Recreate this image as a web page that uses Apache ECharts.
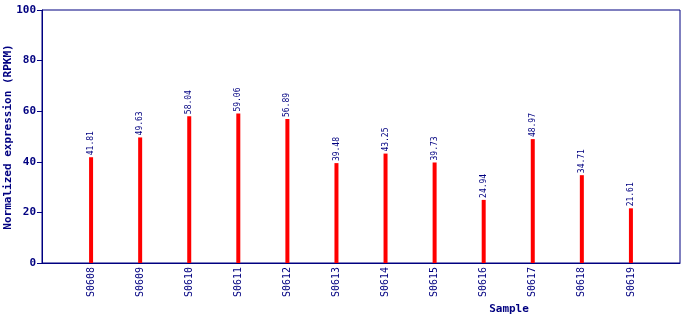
<!DOCTYPE html>
<html><head><meta charset="utf-8">
<script src="https://cdn.jsdelivr.net/npm/echarts@6/dist/echarts.min.js"></script>
<style>html,body{margin:0;padding:0;background:#fff}#c{width:690px;height:320px}</style>
</head><body><div id="c"></div>
<script>
const categories = ['S0608','S0609','S0610','S0611','S0612','S0613','S0614','S0615','S0616','S0617','S0618','S0619'];
const values = [41.81,49.63,58.04,59.06,56.89,39.48,43.25,39.73,24.94,48.97,34.71,21.61];
const yTicks = [0,20,40,60,80,100];

const navy = '#000080';
const font = '"DejaVu Sans Mono", monospace';
const cats = [''].concat(categories, ['']);
const data = [null].concat(values, [null]);

const chart = echarts.init(document.getElementById('c'), null, {renderer:'canvas'});
chart.setOption({
  animation: false,
  grid: {left: 42, right: 10, top: 10, bottom: 57, show: true, borderColor: navy, borderWidth: 1, backgroundColor: 'transparent'},
  xAxis: {
    type: 'category', data: cats, boundaryGap: false,
    axisLine: {lineStyle: {color: navy, width: 1}},
    axisTick: {show: false},
    axisLabel: {rotate: 90, interval: 0, margin: 4, color: navy, fontFamily: font, fontSize: 10},
    splitLine: {show: false}
  },
  yAxis: {
    type: 'value', min: yTicks[0], max: yTicks[yTicks.length-1], interval: 20,
    axisLine: {show: true, lineStyle: {color: navy, width: 1}},
    axisTick: {show: true, length: 5, lineStyle: {color: navy}},
    axisLabel: {margin: 6, color: navy, fontFamily: font, fontSize: 11, fontWeight: 'bold'},
    splitLine: {show: false}
  },
  graphic: [
    {type: 'text', x: 509, y: 309, style: {text: 'Sample', fill: navy, font: 'bold 11px ' + font, textAlign: 'center', textVerticalAlign: 'middle'}},
    {type: 'text', x: 8, y: 137, rotation: Math.PI/2, style: {text: 'Normalized expression (RPKM)', fill: navy, font: 'bold 11px ' + font, textAlign: 'center', textVerticalAlign: 'middle'}}
  ],
  series: [{
    type: 'bar', data: data, barWidth: 4,
    itemStyle: {color: '#ff0000'},
    label: {show: true, position: 'top', rotate: 90, align: 'left', verticalAlign: 'middle', distance: 2,
      color: navy, fontFamily: font, fontSize: 8,
      formatter: p => p.value == null ? '' : p.value.toFixed(2)}
  }]
});
</script></body></html>
